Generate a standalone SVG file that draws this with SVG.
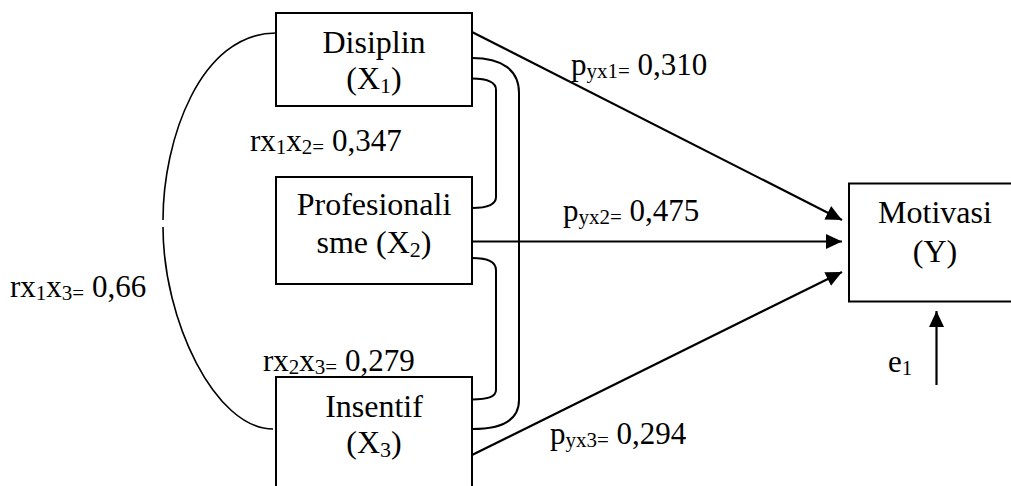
<svg xmlns="http://www.w3.org/2000/svg" width="1011" height="486" viewBox="0 0 1011 486">
<style>
.box{fill:#fff;stroke:#000;stroke-width:2}
text{font-family:'Liberation Serif','Times New Roman','DejaVu Serif',serif;fill:#000}
.nt{font-size:32px;text-anchor:middle}
.lb{font-size:31px}
.sub{font-size:21px}
.c{fill:none;stroke:#000;stroke-width:2}
.cl{fill:none;stroke:#000;stroke-width:1.6}
.ar{fill:none;stroke:#000;stroke-width:2.2;marker-end:url(#ah)}
</style>
<defs>
<marker id="ah" markerUnits="userSpaceOnUse" markerWidth="16" markerHeight="15" refX="16" refY="7.5" orient="auto">
<path d="M0,0 L16,7.5 L0,15 z" fill="#000"/>
</marker>
</defs>
<g id="connectors">
<path class="cl" d="M276,33 C200,33 163,140 163,220"/>
<path class="cl" d="M163,227 C163,320 215,429 273,429"/>
<path class="c" d="M472,58 C502,58 519,70 519,93 L519,400 C519,418 505,429 472,429"/>
<path class="c" d="M472,78.5 C488,78.5 496,82 496,90 L496,197 C496,204 488,208 472,208"/>
<path class="c" d="M472,258 C488,258 496,262 496,270 L496,390 C496,396 488,399.5 472,399.5"/>
<line class="ar" x1="472" y1="32" x2="842" y2="220"/>
<line class="ar" x1="472" y1="241.5" x2="842" y2="241.5"/>
<line class="ar" x1="472" y1="455" x2="842" y2="272"/>
<line class="ar" x1="936.5" y1="385" x2="936.5" y2="311"/>
</g>
<g id="node-x1">
<rect class="box" x="276" y="13" width="196" height="93"/>
<text class="nt" x="374" y="53" font-family="Liberation Serif, serif">Disiplin</text>
<text class="nt" x="374" y="89" font-family="Liberation Serif, serif">(X<tspan font-size="22" dy="3.5">1</tspan><tspan dy="-3.5">)</tspan></text>
</g>
<g id="node-x2">
<rect class="box" x="276" y="177" width="196" height="107"/>
<text class="nt" x="374" y="215">Profesionali</text>
<text class="nt" x="374" y="253">sme (X<tspan font-size="22" dy="3.5">2</tspan><tspan dy="-3.5">)</tspan></text>
</g>
<g id="node-x3">
<rect class="box" x="276" y="377" width="196" height="130"/>
<text class="nt" x="374" y="417">Insentif</text>
<text class="nt" x="374" y="453">(X<tspan font-size="22" dy="3.5">3</tspan><tspan dy="-3.5">)</tspan></text>
</g>
<g id="node-y">
<rect class="box" x="849" y="183.5" width="190" height="118"/>
<text class="nt" x="935" y="223">Motivasi</text>
<text class="nt" x="935" y="262">(Y)</text>
</g>
<g id="labels">
<text class="lb" x="250" y="151">rx<tspan class="sub" dy="3">1</tspan><tspan dy="-3">x</tspan><tspan class="sub" dy="3">2=</tspan><tspan dy="-3"> 0,347</tspan></text>
<text class="lb" x="10" y="297">rx<tspan class="sub" dy="3">1</tspan><tspan dy="-3">x</tspan><tspan class="sub" dy="3">3=</tspan><tspan dy="-3"> 0,66</tspan></text>
<text class="lb" x="263" y="371">rx<tspan class="sub" dy="3">2</tspan><tspan dy="-3">x</tspan><tspan class="sub" dy="3">3=</tspan><tspan dy="-3"> 0,279</tspan></text>
<text class="lb" x="571" y="75">p<tspan class="sub" dy="3">yx1=</tspan><tspan dy="-3"> 0,310</tspan></text>
<text class="lb" x="563" y="221">p<tspan class="sub" dy="3">yx2=</tspan><tspan dy="-3"> 0,475</tspan></text>
<text class="lb" x="550" y="444">p<tspan class="sub" dy="3">yx3=</tspan><tspan dy="-3"> 0,294</tspan></text>
<text class="lb" x="888" y="372">e<tspan class="sub" dy="3">1</tspan></text>
</g>
</svg>
